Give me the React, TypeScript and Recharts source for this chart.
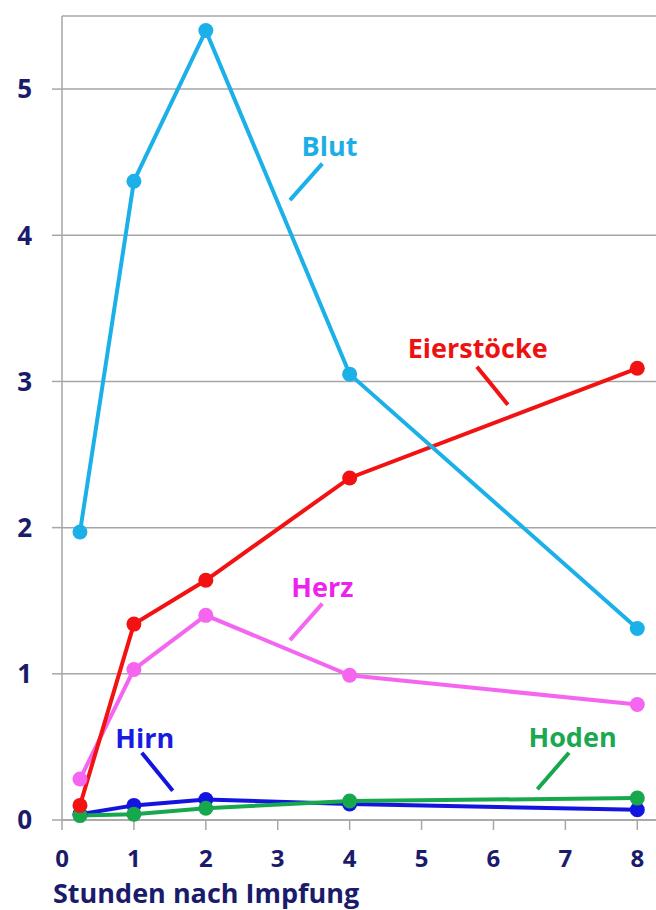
import React from 'react';
import { LineChart, Line, XAxis, YAxis, CartesianGrid, ReferenceLine, ReferenceDot } from 'recharts';

const hours = [0.25, 1, 2, 4, 8];
const blut = [1.97, 4.37, 5.4, 3.05, 1.31];
const eierstoecke = [0.1, 1.34, 1.64, 2.34, 3.09];
const herz = [0.28, 1.03, 1.4, 0.99, 0.79];
const hirn = [0.04, 0.1, 0.14, 0.11, 0.07];
const hoden = [0.03, 0.04, 0.08, 0.13, 0.15];

const xTicks = [0, 1, 2, 3, 4, 5, 6, 7, 8];
const yTicks = [0, 1, 2, 3, 4, 5];

const xTitle = 'Stunden nach Impfung';

const series = [
  { key: 'hirn', name: 'Hirn', values: hirn, color: '#1414E0', text: '#1A1AE0' },
  { key: 'hoden', name: 'Hoden', values: hoden, color: '#17A84E', text: '#1AA850' },
  { key: 'herz', name: 'Herz', values: herz, color: '#F466F0', text: '#EE22EE' },
  { key: 'eier', name: 'Eierstöcke', values: eierstoecke, color: '#F21212', text: '#EE1111' },
  { key: 'blut', name: 'Blut', values: blut, color: '#1CB0E8', text: '#1CAEE6' },
];

// annotation positions in data coordinates: text anchor (center, baseline) and leader segment
const annotations = [
  { key: 'blut', text: 'Blut', tx: 3.72, ty: 4.545, x1: 3.62, y1: 4.49, x2: 3.17, y2: 4.24 },
  { key: 'eier', text: 'Eierstöcke', tx: 5.78, ty: 3.16, x1: 5.77, y1: 3.1, x2: 6.2, y2: 2.84 },
  { key: 'herz', text: 'Herz', tx: 3.62, ty: 1.525, x1: 3.62, y1: 1.48, x2: 3.17, y2: 1.23 },
  { key: 'hirn', text: 'Hirn', tx: 1.15, ty: 0.49, x1: 1.11, y1: 0.46, x2: 1.54, y2: 0.2 },
  { key: 'hoden', text: 'Hoden', tx: 7.1, ty: 0.5, x1: 7.05, y1: 0.46, x2: 6.61, y2: 0.21 },
];

const data = hours.map((h, i) => {
  const row: Record<string, number> = { h };
  series.forEach((s) => {
    row[s.key] = s.values[i];
  });
  return row;
});

const NAVY = '#1B1B6B';
const GRID = '#A6A6A6';
const FONT = '"Open Sans", Lato, sans-serif';

export default function App() {
  return (
    <div style={{ position: 'absolute', left: 0, top: 0, background: '#fff' }}>
      <LineChart width={656} height={910} data={data} margin={{ top: 16, right: 0, left: 0, bottom: 0 }}>
        <CartesianGrid vertical={false} stroke={GRID} strokeWidth={1.5} />
        <XAxis
          dataKey="h"
          type="number"
          domain={[0, 8.26]}
          ticks={xTicks}
          interval={0}
          height={90}
          tickSize={10}
          tickMargin={20}
          axisLine={{ stroke: GRID, strokeWidth: 1.5 }}
          tickLine={{ stroke: GRID, strokeWidth: 1.5 }}
          tick={{ fill: NAVY, fontSize: 24, fontWeight: 700, fontFamily: FONT }}
          label={{
            content: (props: any) => {
              const vb = props.viewBox || {};
              return (
                <text
                  x={(vb.x ?? 62) - 9}
                  y={(vb.y ?? 820) + 83}
                  fill={NAVY}
                  fontSize={27}
                  fontWeight={700}
                  fontFamily={FONT}
                  textAnchor="start"
                >
                  {xTitle}
                </text>
              );
            },
          }}
        />
        <YAxis
          type="number"
          domain={[0, 5.5]}
          ticks={yTicks}
          interval={0}
          width={62}
          tickSize={10}
          tickMargin={20}
          axisLine={{ stroke: GRID, strokeWidth: 1.5 }}
          tickLine={{ stroke: GRID, strokeWidth: 1.5 }}
          tick={{ fill: NAVY, fontSize: 26, fontWeight: 700, fontFamily: FONT }}
        />
        {series.map((s) => (
          <Line
            key={s.key}
            dataKey={s.key}
            type="linear"
            stroke={s.color}
            strokeWidth={4}
            dot={{ r: 7.5, fill: s.color, stroke: s.color, strokeWidth: 0 }}
            activeDot={false}
            isAnimationActive={false}
          />
        ))}
        {annotations.map((a) => {
          const s = series.find((q) => q.key === a.key)!;
          return (
            <ReferenceLine
              key={'l' + a.key}
              segment={[
                { x: a.x1, y: a.y1 },
                { x: a.x2, y: a.y2 },
              ]}
              stroke={s.color}
              strokeWidth={4}
              ifOverflow="visible"
            />
          );
        })}
        {annotations.map((a) => {
          const s = series.find((q) => q.key === a.key)!;
          return (
            <ReferenceDot
              key={'t' + a.key}
              x={a.tx}
              y={a.ty}
              r={0}
              ifOverflow="visible"
              shape={(p: any) => (
                <text
                  x={p.cx}
                  y={p.cy}
                  fill={s.text}
                  fontSize={27}
                  fontWeight={700}
                  fontFamily={FONT}
                  textAnchor="middle"
                >
                  {a.text}
                </text>
              )}
            />
          );
        })}
      </LineChart>
    </div>
  );
}
